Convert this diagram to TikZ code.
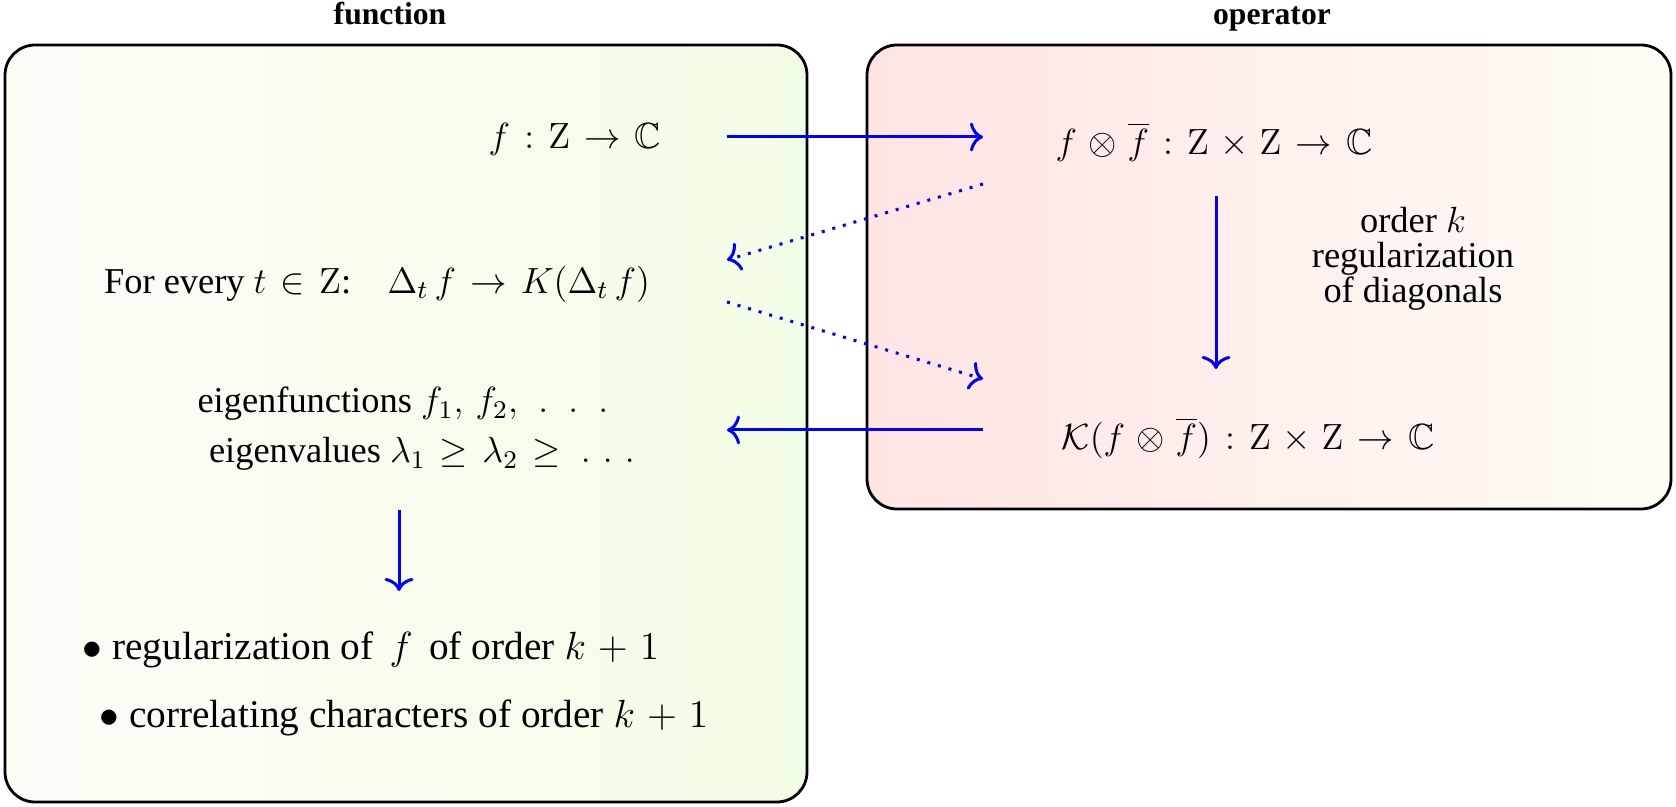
\RequirePackage{fix-cm}
\documentclass[tikz,border=0pt]{standalone}
\usepackage{amsmath,amssymb}
\usepackage[no-math]{fontspec}
\setmainfont{Liberation Serif}
\usetikzlibrary{calc,arrows.meta}
\definecolor{gL1}{RGB}{253,253,247}
\definecolor{gL2}{RGB}{242,253,230}
\definecolor{pR1}{RGB}{255,228,228}
\definecolor{pR2}{RGB}{255,252,245}
\thickmuskip=7mu plus 2mu
\medmuskip=5.5mu plus 2mu
\tikzset{
  panel/.style={draw=black, line width=0.97pt, rounded corners=10.4pt},
  head/.style={font=\fontsize{10.95}{13}\selectfont\bfseries, inner sep=0pt, anchor=base},
  txt/.style={font=\fontsize{12.6}{15}\selectfont, inner sep=0pt},
  bigtxt/.style={font=\fontsize{13.6}{16}\selectfont, inner sep=0pt},
  arr/.style={draw=blue, line width=1.04pt, -{Computer Modern Rightarrow[length=4.5pt,width=10pt]}},
  dotarr/.style={arr, dash pattern=on 1.04pt off 2.77pt}
}
\begin{document}
\begin{tikzpicture}[x=0.346pt, y=-0.346pt]
\useasboundingbox (0,0) rectangle (1676,807);
\path[panel, left color=gL1, right color=gL2] (5,45) rectangle (807,802);
\path[panel, left color=pR1, right color=pR2] (867,45) rectangle (1671,509);
\node[head] (hf) at (390,25) {function};
\node[head] (ho) at (1272,25) {operator};
\coordinate (colL) at (727,0);
\coordinate (colR) at (983,0);
\node[txt] (fZ) at (575,139) {$f:\mathrm{Z}\to\mathbb{C}$};
\node[txt] (ff) at (1214,142) {$f\otimes\overline{f}:\mathrm{Z}\times\mathrm{Z}\to\mathbb{C}$};
\node[txt] (every) at (377,284) {For every $t\in\mathrm{Z}$:\quad$\Delta_t\,f\to K(\Delta_t\,f)$};
\node[txt, align=center, font=\fontsize{12.6}{12.1}\selectfont] (ord) at (1413,259) {order $k$\\regularization\\of diagonals};
\node[txt] (Kf) at (1248,438) {$\mathcal{K}(f\otimes\overline{f}):\mathrm{Z}\times\mathrm{Z}\to\mathbb{C}$};
\node[txt] (eigf) at (403,404) {eigenfunctions $f_1,\,f_2,\;.\;\,.\;\,.$};
\node[txt] (eigv) at (422,454) {eigenvalues $\lambda_1\geq\lambda_2\geq\,.\,\,.\,\,.$};
\node[bigtxt] (bul1) at (371,650) {$\bullet$\ regularization of \,$f$\, of order $k+1$};
\node[bigtxt] (bul2) at (404,718) {$\bullet$\ correlating characters of order $k+1$};
\draw[arr] ($(fZ -| colL)+(0,-2)$) -- ($(fZ -| colR)+(0,-2)$);
\draw[dotarr] ($(ff -| colR)+(0,42)$) -- ($(every -| colL)+(0,-24)$);
\draw[dotarr] ($(every -| colL)+(0,18)$) -- ($(Kf -| colR)+(0,-59)$);
\draw[arr] ($(ff)+(2,54)$) -- ($(ff |- Kf)+(2,-69)$);
\draw[arr] ($(Kf -| colR)+(0,-8)$) -- ($(Kf -| colL)+(0,-8)$);
\draw[arr] ($(eigv)+(-23,56)$) -- ($(eigv)+(-23,137)$);
\end{tikzpicture}
\end{document}
